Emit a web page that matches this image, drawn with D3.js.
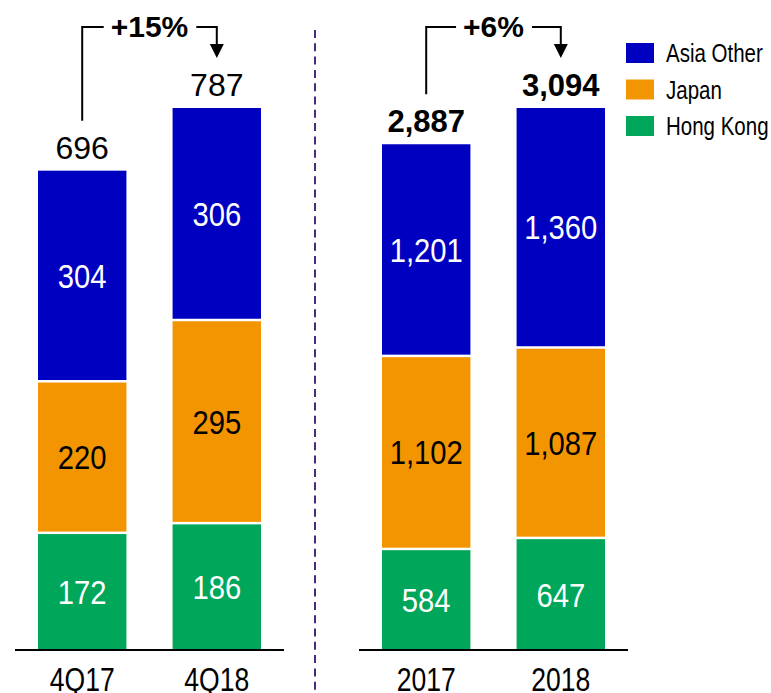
<!DOCTYPE html>
<html>
<head>
<meta charset="utf-8">
<script src="https://cdn.jsdelivr.net/npm/d3@7"></script>
<style>
  html, body { margin: 0; padding: 0; background: #fff; }
  svg { display: block; }
</style>
</head>
<body>
<svg id="chart" width="771" height="693"></svg>
<script>
// Region revenue, stacked by market (bottom to top)
const series = ["Hong Kong", "Japan", "Asia Other"];
const colors = ["#00A65A", "#F39500", "#0000C0"];

const quarterCats = ["4Q17", "4Q18"];
const quarterHongKong = [172, 186];
const quarterJapan = [220, 295];
const quarterAsiaOther = [304, 306];
const quarterTotals = [696, 787];
const quarterGrowth = "+15%";

const yearCats = ["2017", "2018"];
const yearHongKong = [584, 647];
const yearJapan = [1102, 1087];
const yearAsiaOther = [1201, 1360];
const yearTotals = [2887, 3094];
const yearGrowth = "+6%";

const legendLabels = ["Asia Other", "Japan", "Hong Kong"];
const legendColors = ["#0000C0", "#F39500", "#00A65A"];

const svg = d3.select("#chart");
const fmt = d3.format(",");
const SANS = "'Liberation Sans', Arial, sans-serif";

const baseY = 650, topY = 108;

// text squeezed horizontally for a condensed look
function narrowText(parent, x, y, str, size, squeeze, opts = {}) {
  const g = parent.append("g").attr("transform", `translate(${x},${y}) scale(${squeeze},1)`);
  return g.append("text")
    .attr("x", 0).attr("y", 0)
    .attr("dy", opts.dy || null)
    .attr("text-anchor", opts.anchor || "middle")
    .attr("font-family", SANS)
    .attr("font-size", size)
    .attr("fill", opts.fill || "#000")
    .text(str);
}

function panel(cfg) {
  const rows = cfg.cats.map((c, i) => ({
    cat: c,
    "Hong Kong": cfg.hk[i],
    "Japan": cfg.jp[i],
    "Asia Other": cfg.ao[i]
  }));
  const stack = d3.stack().keys(series)(rows);

  const x = d3.scaleBand().domain(cfg.cats).range(cfg.range).paddingInner(0.343).paddingOuter(0);
  const y = d3.scaleLinear().domain([0, d3.max(cfg.totals)]).range([baseY, topY]);

  const g = svg.append("g");

  stack.forEach((layer, li) => {
    const isTop = li === stack.length - 1;
    g.selectAll(null).data(layer).enter().append("rect")
      .attr("x", d => x(d.data.cat))
      .attr("width", x.bandwidth())
      .attr("y", d => y(d[1]) + (isTop ? 0 : 2.5))
      .attr("height", d => y(d[0]) - y(d[1]) - (isTop ? 0 : 2.5))
      .attr("fill", colors[li]);

    layer.forEach(d => {
      narrowText(g,
        x(d.data.cat) + x.bandwidth() / 2,
        (y(d[0]) + y(d[1])) / 2 + (isTop ? 0 : 1),
        fmt(d[1] - d[0]), 34, 0.86,
        { dy: "0.36em", fill: li === 1 ? "#000" : "#fff" });
    });
  });

  // totals above each bar
  g.selectAll(null).data(cfg.totals).enter().append("text")
    .attr("x", (d, i) => x(cfg.cats[i]) + x.bandwidth() / 2)
    .attr("y", d => y(d) - 12)
    .attr("text-anchor", "middle")
    .attr("font-family", SANS)
    .attr("font-weight", cfg.boldTotals ? "bold" : "normal")
    .attr("font-size", cfg.boldTotals ? 31 : 32)
    .attr("fill", "#000")
    .text(d => fmt(d));

  // baseline
  g.append("line")
    .attr("x1", cfg.range[0] - 23).attr("x2", cfg.range[1] + 23)
    .attr("y1", y(0)).attr("y2", y(0))
    .attr("stroke", "#000").attr("stroke-width", 2);

  // category labels
  cfg.cats.forEach(c => {
    narrowText(g, x(c) + x.bandwidth() / 2, 691, c, 34, 0.78);
  });

  // growth connector
  const x0 = x(cfg.cats[0]) + x.bandwidth() / 2;
  const x1 = x(cfg.cats[1]) + x.bandwidth() / 2;
  const ly = 27;
  const startY = y(cfg.totals[0]) - 50;
  const mid = (x0 + x1) / 2;
  const label = g.append("text")
    .attr("x", mid).attr("y", 37)
    .attr("text-anchor", "middle")
    .attr("font-family", SANS)
    .attr("font-weight", "bold")
    .attr("font-size", 30)
    .attr("fill", "#000")
    .text(cfg.growth);
  const w = label.node().getComputedTextLength();
  const tipY = 58;
  g.append("path")
    .attr("d", `M${x0},${startY}V${ly}H${mid - w / 2 - 7}`)
    .attr("fill", "none").attr("stroke", "#000").attr("stroke-width", 2);
  g.append("path")
    .attr("d", `M${mid + w / 2 + 8},${ly}H${x1}V${tipY - 12}`)
    .attr("fill", "none").attr("stroke", "#000").attr("stroke-width", 2);
  g.append("path")
    .attr("d", `M${x1 - 7},${tipY - 14}L${x1 + 7},${tipY - 14}L${x1},${tipY}Z`)
    .attr("fill", "#000");
}

panel({
  cats: quarterCats, hk: quarterHongKong, jp: quarterJapan, ao: quarterAsiaOther,
  totals: quarterTotals, growth: quarterGrowth, range: [38, 261], boldTotals: false
});
panel({
  cats: yearCats, hk: yearHongKong, jp: yearJapan, ao: yearAsiaOther,
  totals: yearTotals, growth: yearGrowth, range: [382, 605], boldTotals: true
});

// divider between quarterly and annual panels
svg.append("line")
  .attr("x1", 315).attr("x2", 315)
  .attr("y1", 30).attr("y2", 693)
  .attr("stroke", "#4B2A7B").attr("stroke-width", 2)
  .attr("stroke-dasharray", "8,5.3");

// legend
const legend = svg.append("g").attr("transform", "translate(626,43)");
legendLabels.forEach((lab, i) => {
  const row = legend.append("g").attr("transform", `translate(0,${i * 36.5})`);
  row.append("rect").attr("width", 28).attr("height", 20).attr("fill", legendColors[i]);
  narrowText(row, 40, 10, lab, 25, 0.82, { anchor: "start", dy: "0.36em" });
});
</script>
</body>
</html>
